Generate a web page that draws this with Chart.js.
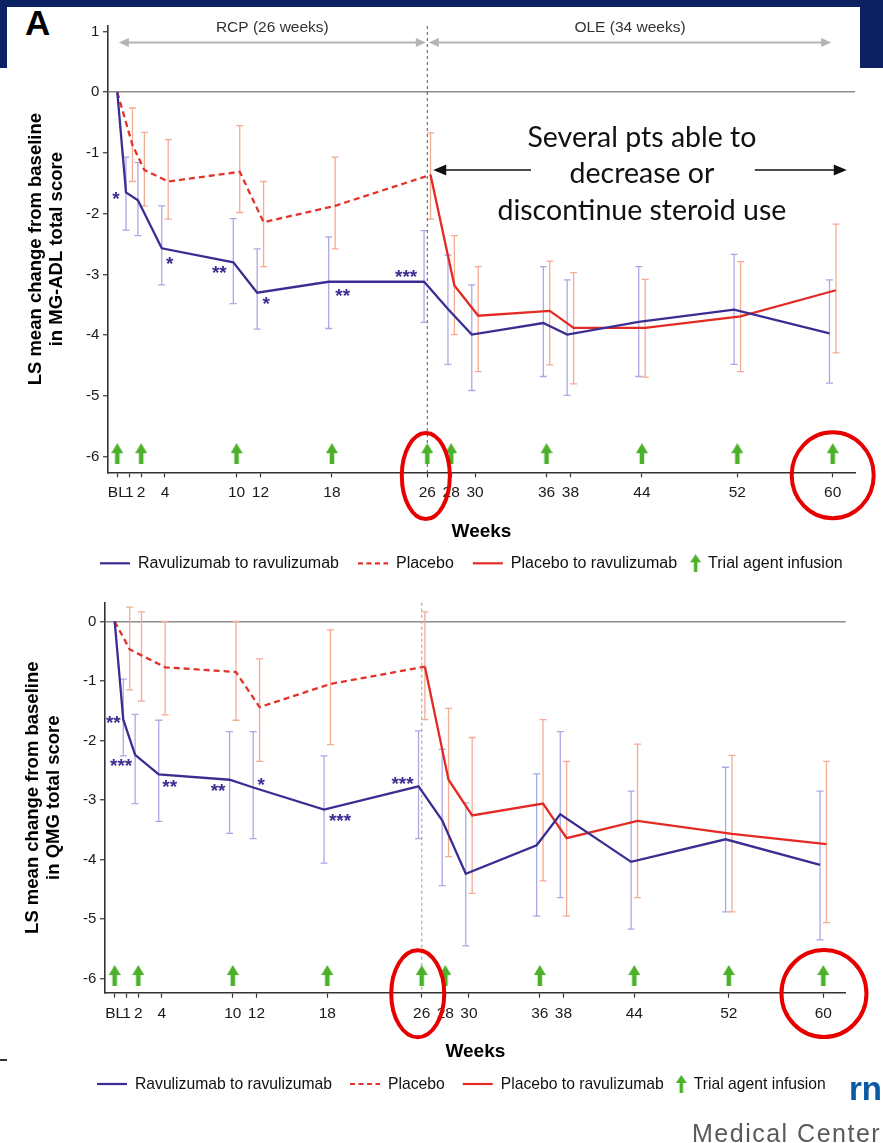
<!DOCTYPE html>
<html>
<head>
<meta charset="utf-8">
<script src="https://cdn.jsdelivr.net/npm/chart.js@4.4.0/dist/chart.umd.min.js"></script>
<style>
html,body{margin:0;padding:0;background:#fff;width:883px;height:1143px;overflow:hidden;position:relative;font-family:"Liberation Sans",Arial,sans-serif;}
.bar{position:absolute;background:#0b2161;}
.wrap{position:absolute;left:0;width:883px;}
#w1{top:0;height:590px;}
#w2{top:590px;height:510px;}
#panelA{position:absolute;left:25px;top:5px;font:bold 35px/35px "Liberation Sans",Arial,sans-serif;color:#000;}
#med{position:absolute;left:692px;top:1121px;font:25px/25px "Liberation Sans",Arial,sans-serif;letter-spacing:1.5px;color:#5a5a5a;white-space:nowrap;}
#rn{position:absolute;left:849px;top:1072px;font:bold 33px/33px "Liberation Sans",Arial,sans-serif;color:#0b5aa6;white-space:nowrap;}
#dash{position:absolute;left:0;top:1059px;width:7px;height:2px;background:#333;}
</style>
</head>
<body>
<div class="bar" style="left:0;top:0;width:883px;height:7px;"></div>
<div class="bar" style="left:0;top:0;width:7px;height:68px;"></div>
<div class="bar" style="left:860px;top:0;width:23px;height:68px;"></div>
<div id="panelA">A</div>
<div class="wrap" id="w1"><canvas id="c1" width="883" height="590"></canvas></div>
<div class="wrap" id="w2"><canvas id="c2" width="883" height="510"></canvas></div>
<div id="dash"></div>
<div id="rn">rn</div>
<div id="med">Medical Center</div>
<script>
// ---------------- data ----------------
const weeksAll = [0, 1, 2, 4, 10, 12, 18, 26, 28, 30, 36, 38, 44, 52, 60];
const weeksRcp = [0, 1, 2, 4, 10, 12, 18, 26];
const weeksOle = [26, 28, 30, 36, 38, 44, 52, 60];
const xTickWeeks = [0, 1, 2, 4, 10, 12, 18, 26, 28, 30, 36, 38, 44, 52, 60];
const xTickLabels = ['BL', '1', '2', '4', '10', '12', '18', '26', '28', '30', '36', '38', '44', '52', '60'];
const infusionWeeks = [0, 2, 10, 18, 26, 28, 36, 44, 52, 60];
const seriesNames = ['Ravulizumab to ravulizumab', 'Placebo', 'Placebo to ravulizumab', 'Trial agent infusion'];
const xTitle = 'Weeks';

// Panel 1: MG-ADL
const adlTitle = ['LS mean change from baseline', 'in MG-ADL total score'];
const adlYTicks = [1, 0, -1, -2, -3, -4, -5, -6];
const adlRavu   = [0, -1.65, -1.78, -2.57, -2.8, -3.3, -3.12, -3.12, -3.57, -3.99, -3.8, -3.99, -3.78, -3.58, -3.97];
const adlRavuHi = [null, -1.07, -1.16, -1.87, -2.08, -2.58, -2.38, -2.28, -2.68, -3.17, -2.87, -3.09, -2.87, -2.67, -3.09];
const adlRavuLo = [null, -2.27, -2.36, -3.17, -3.48, -3.9, -3.89, -3.79, -4.48, -4.91, -4.68, -4.99, -4.68, -4.48, -4.79];
const adlPbo    = [0, -0.87, -1.28, -1.47, -1.31, -2.14, -1.87, -1.36];
const adlPboHi  = [null, -0.26, -0.66, -0.78, -0.55, -1.47, -1.07, -0.67];
const adlPboLo  = [null, -1.47, -1.87, -2.09, -1.98, -2.87, -2.58, -2.09];
const adlSwitch   = [-1.36, -3.18, -3.68, -3.6, -3.88, -3.88, -3.69, -3.26];
const adlSwitchHi = [null, -2.36, -2.87, -2.78, -2.97, -3.08, -2.79, -2.17];
const adlSwitchLo = [null, -3.99, -4.6, -4.49, -4.8, -4.69, -4.6, -4.29];
const adlStars = ['', '*', '', '*', '**', '*', '**', '***', '', '', '', '', '', '', ''];
const phaseLabels = ['RCP (26 weeks)', 'OLE (34 weeks)'];
const phaseBounds = [0, 26, 60];
const steroidNote = ['Several pts able to', 'decrease or', 'discontinue steroid use'];

// Panel 2: QMG
const qmgTitle = ['LS mean change from baseline', 'in QMG total score'];
const qmgYTicks = [0, -1, -2, -3, -4, -5, -6];
const qmgRavu   = [0, -1.65, -2.24, -2.57, -2.66, -2.79, -3.16, -2.77, -3.34, -4.24, -3.76, -3.24, -4.04, -3.66, -4.09];
const qmgRavuHi = [null, -0.97, -1.56, -1.66, -1.85, -1.85, -2.26, -1.84, -2.15, -3.05, -2.56, -1.85, -2.85, -2.45, -2.85];
const qmgRavuLo = [null, -2.26, -3.06, -3.36, -3.56, -3.65, -4.06, -3.65, -4.44, -5.45, -4.95, -4.64, -5.17, -4.88, -5.35];
const qmgPbo    = [0, -0.47, -0.57, -0.77, -0.85, -1.44, -1.05, -0.76];
const qmgPboHi  = [null, 0.24, 0.16, 0, 0, -0.63, -0.14, 0.16];
const qmgPboLo  = [null, -1.15, -1.34, -1.57, -1.66, -2.35, -2.07, -1.65];
const qmgSwitch   = [-0.76, -2.66, -3.26, -3.06, -3.64, -3.35, -3.57, -3.74];
const qmgSwitchHi = [null, -1.46, -1.95, -1.65, -2.35, -2.06, -2.25, -2.35];
const qmgSwitchLo = [null, -3.95, -4.57, -4.36, -4.95, -4.64, -4.88, -5.06];
const qmgStars = ['', '**', '***', '**', '**', '*', '***', '***', '', '', '', '', '', '', ''];

// ---------------- styling / layout config ----------------
const FONT = '"Liberation Sans", Arial, Helvetica, sans-serif';
Chart.defaults.font.family = FONT;
Chart.defaults.color = '#1a1a1a';
const COLORS = {ravu: '#3a2e92', pbo: '#e2342c', sw: '#e42a24', ravuErr: '#aca8e4', redErr: '#f4ab92',
  green: '#4bb02a', axis: '#333333', zero: '#8c8c8c', ring: '#e80000', phase: '#b4b4b4'};
const DODGE = 0.27;          // horizontal offset of the two arms (weeks)
const INFUSION_Y = -5.95;    // row where infusion arrows sit

const adlStarOffsets = [null, [-10, 3], null, [8, 12], [-14, 7], [9, 8], [14, 11], [-18, -8]];
const qmgStarOffsets = [null, [-10, 0], [-14, 8], [11, 9], [-11.5, 8], [8, -6], [16, 8], [-16, -6]];

function pts(weeks, vals, shift) {
  return weeks.map((w, i) => ({x: w === 0 ? w : w + shift, y: vals[i]}));
}

function arrowCanvas(w, h, headH, stemW, color) {
  const c = document.createElement('canvas');
  c.width = w; c.height = h;
  const g = c.getContext('2d');
  g.fillStyle = color;
  g.beginPath();
  g.moveTo(w / 2, 0); g.lineTo(w, headH); g.lineTo((w + stemW) / 2, headH);
  g.lineTo((w + stemW) / 2, h); g.lineTo((w - stemW) / 2, h);
  g.lineTo((w - stemW) / 2, headH); g.lineTo(0, headH); g.closePath(); g.fill();
  return c;
}

function head(ctx, x, y, dir, len, half) {
  ctx.beginPath();
  ctx.moveTo(x, y);
  ctx.lineTo(x - dir * len, y - half);
  ctx.lineTo(x - dir * len, y + half);
  ctx.closePath();
  ctx.fill();
}

const errorBarPlugin = {
  id: 'errorBars',
  beforeDatasetsDraw(chart) {
    const {ctx, scales: {y}} = chart;
    chart.data.datasets.forEach((ds, i) => {
      if (!ds.errHi) return;
      const meta = chart.getDatasetMeta(i);
      ctx.save();
      ctx.strokeStyle = ds.errColor;
      ctx.lineWidth = 1.3;
      meta.data.forEach((el, j) => {
        const hi = ds.errHi[j], lo = ds.errLo[j];
        if (hi == null || lo == null) return;
        const px = el.x, ph = y.getPixelForValue(hi), pl = y.getPixelForValue(lo);
        ctx.beginPath();
        ctx.moveTo(px, ph); ctx.lineTo(px, pl);
        ctx.moveTo(px - 3.5, ph); ctx.lineTo(px + 3.5, ph);
        ctx.moveTo(px - 3.5, pl); ctx.lineTo(px + 3.5, pl);
        ctx.stroke();
      });
      ctx.restore();
    });
  }
};

function makePanel(P) {
  const infusionImg = arrowCanvas(12, 21, 10, 4.5, COLORS.green);
  const legendArrow = arrowCanvas(11, 18, 8, 3.5, COLORS.green);

  const datasets = [
    {label: seriesNames[0], data: pts(weeksAll, P.ravu, -DODGE), borderColor: COLORS.ravu, borderWidth: 2.3,
      pointRadius: 0, errHi: P.ravuHi, errLo: P.ravuLo, errColor: COLORS.ravuErr},
    {label: seriesNames[1], data: pts(weeksRcp, P.pbo, DODGE), borderColor: COLORS.pbo, borderWidth: 2.3,
      borderDash: [6, 4], pointRadius: 0, errHi: P.pboHi, errLo: P.pboLo, errColor: COLORS.redErr},
    {label: seriesNames[2], data: pts(weeksOle, P.sw, DODGE), borderColor: COLORS.sw, borderWidth: 2.3,
      pointRadius: 0, errHi: P.swHi, errLo: P.swLo, errColor: COLORS.redErr},
    {label: seriesNames[3], data: infusionWeeks.map(w => ({x: w, y: INFUSION_Y})), showLine: false,
      pointStyle: infusionImg, pointRadius: 6, borderColor: COLORS.green, backgroundColor: COLORS.green}
  ];

  const decor = {
    id: 'decor_' + P.canvas,
    beforeDatasetsDraw(chart) {
      const {ctx, chartArea: a, scales: {x}} = chart;
      const xp = x.getPixelForValue(26);
      ctx.save();
      ctx.strokeStyle = P.switchLine.color;
      ctx.lineWidth = P.switchLine.width;
      ctx.setLineDash(P.switchLine.dash);
      ctx.beginPath(); ctx.moveTo(xp, a.top); ctx.lineTo(xp, a.bottom); ctx.stroke();
      ctx.restore();
    },
    afterDatasetsDraw(chart) {
      const {ctx, chartArea: a, scales: {x, y}} = chart;
      // significance stars next to the ravulizumab arm
      const meta = chart.getDatasetMeta(0);
      ctx.save();
      ctx.fillStyle = COLORS.ravu;
      ctx.font = 'bold 19px ' + FONT;
      ctx.textAlign = 'center';
      ctx.textBaseline = 'middle';
      P.stars.forEach((s, i) => {
        if (!s) return;
        const el = meta.data[i], off = P.starOffsets[i];
        ctx.fillText(s, el.x + off[0], el.y + off[1] + 4.5);
      });
      ctx.restore();

      // phase arrows (panel 1)
      if (P.phases) {
        ctx.save();
        ctx.strokeStyle = COLORS.phase; ctx.fillStyle = COLORS.phase; ctx.lineWidth = 2;
        const py = y.getPixelForValue(P.phaseY);
        for (let k = 0; k < 2; k++) {
          const x0 = x.getPixelForValue(phaseBounds[k]) + 1.5;
          const x1 = x.getPixelForValue(phaseBounds[k + 1]) - 1.5;
          ctx.beginPath(); ctx.moveTo(x0 + 6, py); ctx.lineTo(x1 - 6, py); ctx.stroke();
          head(ctx, x0, py, -1, 10, 4.5);
          head(ctx, x1, py, 1, 10, 4.5);
        }
        ctx.fillStyle = '#333';
        ctx.font = '15.5px ' + FONT;
        ctx.textAlign = 'center'; ctx.textBaseline = 'middle';
        const ly = y.getPixelForValue(P.phaseLabelY);
        for (let k = 0; k < 2; k++) {
          const mid = (phaseBounds[k] + phaseBounds[k + 1]) / 2;
          ctx.fillText(phaseLabels[k], x.getPixelForValue(mid), ly);
        }
        ctx.restore();
      }

      // steroid note (panel 1)
      if (P.note) {
        ctx.save();
        ctx.fillStyle = '#111';
        ctx.font = '28.5px Lato, "Open Sans", sans-serif';
        ctx.textAlign = 'center'; ctx.textBaseline = 'alphabetic';
        steroidNote.forEach((t, i) => ctx.fillText(t, x.getPixelForValue(P.note.week), y.getPixelForValue(P.note.baselines[i])));
        ctx.strokeStyle = '#111'; ctx.fillStyle = '#111'; ctx.lineWidth = 1.5;
        const ay = y.getPixelForValue(P.note.arrowY);
        const l0 = x.getPixelForValue(P.note.left[0]), l1 = x.getPixelForValue(P.note.left[1]);
        const r0 = x.getPixelForValue(P.note.right[0]), r1 = x.getPixelForValue(P.note.right[1]);
        ctx.beginPath(); ctx.moveTo(l0, ay); ctx.lineTo(l1 + 10, ay); ctx.stroke();
        head(ctx, l1, ay, -1, 13, 5.5);
        ctx.beginPath(); ctx.moveTo(r0, ay); ctx.lineTo(r1 - 10, ay); ctx.stroke();
        head(ctx, r1, ay, 1, 13, 5.5);
        ctx.restore();
      }
    },
    afterDraw(chart) {
      const {ctx, chartArea: a, scales: {x}} = chart;
      // red rings around week labels
      ctx.save();
      ctx.strokeStyle = COLORS.ring; ctx.lineWidth = 4;
      P.rings.forEach(r => {
        ctx.beginPath();
        ctx.ellipse(x.getPixelForValue(r.week) + r.dx, a.bottom + r.dy, r.rx, r.ry, 0, 0, Math.PI * 2);
        ctx.stroke();
      });
      ctx.restore();

      // legend row
      ctx.save();
      ctx.font = P.legendFont + 'px ' + FONT;
      ctx.textBaseline = 'middle';
      ctx.textAlign = 'left';
      const ly = a.bottom + P.legendDy;
      let cx = a.left - 8;
      const samples = [
        {color: COLORS.ravu, dash: []},
        {color: COLORS.pbo, dash: [5, 3.5]},
        {color: COLORS.sw, dash: []},
        null
      ];
      seriesNames.forEach((name, i) => {
        const s = samples[i];
        if (s) {
          ctx.strokeStyle = s.color; ctx.lineWidth = 2.2; ctx.setLineDash(s.dash);
          ctx.beginPath(); ctx.moveTo(cx, ly); ctx.lineTo(cx + 30, ly); ctx.stroke();
          ctx.setLineDash([]);
          cx += 38;
        } else {
          cx -= 6;
          ctx.drawImage(legendArrow, cx, ly - 9);
          cx += 11 + 7;
        }
        ctx.fillStyle = '#111';
        ctx.fillText(name, cx, ly + 0.5);
        cx += ctx.measureText(name).width + P.legendGap;
      });
      ctx.restore();
    }
  };

  return new Chart(document.getElementById(P.canvas), {
    type: 'line',
    data: {datasets},
    options: {
      responsive: false,
      animation: false,
      events: [],
      layout: {padding: P.pad, autoPadding: false},
      elements: {line: {tension: 0}},
      plugins: {legend: {display: false}, tooltip: {enabled: false}},
      scales: {
        x: {
          type: 'linear', min: P.xMin, max: P.xMax,
          afterBuildTicks: s => { s.ticks = xTickWeeks.map(v => ({value: v})); },
          afterFit: s => { s.height = 72; },
          ticks: {autoSkip: false, maxRotation: 0, minRotation: 0, font: {size: 15.5}, color: '#1a1a1a', padding: 6.5,
            callback: (v, i) => xTickLabels[i]},
          grid: {display: true, drawOnChartArea: false, drawTicks: true, tickLength: 5, tickColor: COLORS.axis, tickWidth: 1.2},
          border: {display: true, color: COLORS.axis, width: 1.6},
          title: {display: true, text: xTitle, color: '#000', font: {size: 19, weight: 'bold'}, padding: {top: 0, bottom: 1.5}}
        },
        y: {
          type: 'linear', min: P.yMin, max: P.yMax,
          afterBuildTicks: s => { s.ticks = P.yTicks.map(v => ({value: v})); },
          afterFit: s => { s.width = P.yWidth; },
          ticks: {font: {size: 15}, color: '#1a1a1a', padding: 3.7, callback: v => String(v)},
          grid: {color: c => (c.tick && c.tick.value === 0) ? COLORS.zero : 'rgba(0,0,0,0)', lineWidth: 1.5,
            drawTicks: true, tickLength: 5, tickColor: COLORS.axis, tickWidth: 1.2},
          border: {display: true, color: COLORS.axis, width: 1.6},
          title: {display: true, text: P.yTitle, color: '#000', font: {size: 18.5, weight: 'bold', lineHeight: '21.5px'},
            padding: {top: P.titlePad, bottom: 0}}
        }
      }
    },
    plugins: [errorBarPlugin, decor]
  });
}

makePanel({
  canvas: 'c1', yMin: -6.257, yMax: 1.09, xMin: -0.78, xMax: 61.87,
  pad: {left: 0, right: 28, top: 26, bottom: 45.7}, yWidth: 108, titlePad: 24.75,
  yTitle: adlTitle, yTicks: adlYTicks,
  ravu: adlRavu, ravuHi: adlRavuHi, ravuLo: adlRavuLo,
  pbo: adlPbo, pboHi: adlPboHi, pboLo: adlPboLo,
  sw: adlSwitch, swHi: adlSwitchHi, swLo: adlSwitchLo,
  stars: adlStars, starOffsets: adlStarOffsets,
  switchLine: {color: '#555', width: 1, dash: [3, 3]},
  phases: true, phaseY: 0.817, phaseLabelY: 1.06,
  note: {week: 44, baselines: [-0.896, -1.498, -2.103], arrowY: -1.279, left: [34.7, 26.5], right: [53.47, 61.18]},
  rings: [{week: 26, dx: -1.5, dy: 3.7, rx: 24, ry: 43}, {week: 60, dx: 0, dy: 3, rx: 41, ry: 43}],
  legendDy: 91, legendFont: 16, legendGap: 19
});

makePanel({
  canvas: 'c2', yMin: -6.238, yMax: 0.315, xMin: -0.82, xMax: 61.9,
  pad: {left: 0, right: 37.3, top: 7, bottom: 35.3}, yWidth: 105, titlePad: 21.75,
  yTitle: qmgTitle, yTicks: qmgYTicks,
  ravu: qmgRavu, ravuHi: qmgRavuHi, ravuLo: qmgRavuLo,
  pbo: qmgPbo, pboHi: qmgPboHi, pboLo: qmgPboLo,
  sw: qmgSwitch, swHi: qmgSwitchHi, swLo: qmgSwitchLo,
  stars: qmgStars, starOffsets: qmgStarOffsets,
  switchLine: {color: '#b0b0b0', width: 1.3, dash: [3, 3]},
  phases: false, note: null,
  rings: [{week: 26, dx: -4, dy: 1, rx: 26.5, ry: 43.5}, {week: 60, dx: 0.7, dy: 0.8, rx: 42.5, ry: 43.5}],
  legendDy: 91.3, legendFont: 15.7, legendGap: 18
});
</script>
</body>
</html>
